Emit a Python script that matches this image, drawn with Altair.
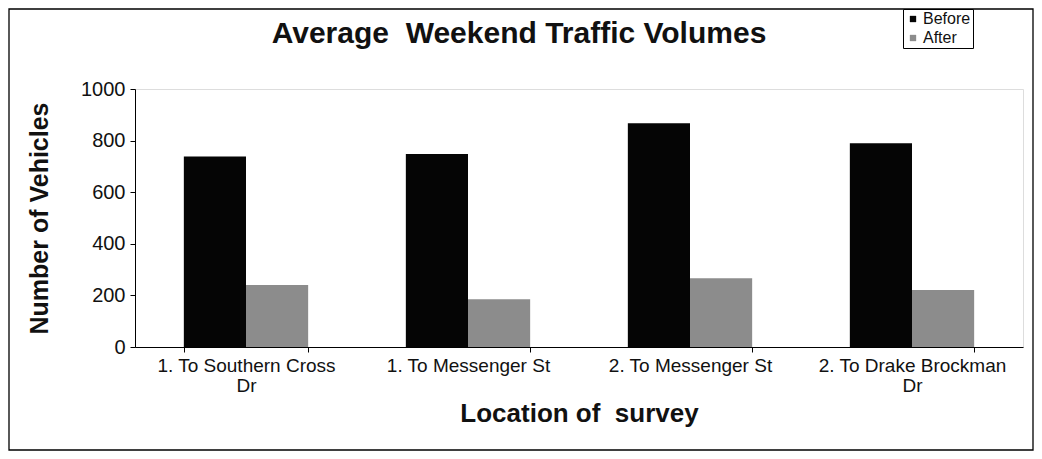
import altair as alt
import pandas as pd

categories = ["1. To Southern Cross\nDr", "1. To Messenger St", "2. To Messenger St", "2. To Drake Brockman\nDr"]
series = ["Before", "After"]
before_vals = [738, 748, 867, 790]
after_vals = [240, 185, 266, 221]

rows = []
for c, b, a in zip(categories, before_vals, after_vals):
    rows.append({"loc": c, "series": "Before", "value": b})
    rows.append({"loc": c, "series": "After", "value": a})
df = pd.DataFrame(rows)

W, H = 888, 258
PL, PT, PR, PB = 127, 81, 11, 104
FONT = "Liberation Sans"

bars = alt.Chart(df).mark_bar(strokeWidth=0).encode(
    x=alt.X("loc:N", sort=categories,
            scale=alt.Scale(paddingInner=0.44, paddingOuter=0.22),
            axis=alt.Axis(title="Location of\u00a0 survey", labelAngle=0,
                          labelExpr="split(datum.label, '\\n')", labelLimit=0,
                          tickBand="extent", tickSize=5, tickColor="black",
                          domainColor="black", labelFontSize=19, labelColor="#111",
                          labelPadding=4, labelLineHeight=20,
                          titleFontSize=26, titleFontWeight="bold", titlePadding=5,
                          titleColor="#111", labelFont=FONT, titleFont=FONT)),
    xOffset=alt.XOffset("series:N", sort=series, scale=alt.Scale(paddingInner=0, paddingOuter=0)),
    y=alt.Y("value:Q", scale=alt.Scale(domain=[0, 1000]),
            axis=alt.Axis(title="Number of Vehicles", values=[0, 200, 400, 600, 800, 1000],
                          format="d",
                          grid=False, tickSize=5, tickColor="black", domainColor="black",
                          labelFontSize=20, labelColor="#111", labelPadding=5,
                          titleFontSize=25, titleFontWeight="bold", titlePadding=28,
                          titleColor="#111", labelFont=FONT, titleFont=FONT)),
    color=alt.Color("series:N", sort=series,
                    scale=alt.Scale(domain=series, range=["#050505", "#8c8c8c"]),
                    legend=alt.Legend(title=None, orient="none", legendX=768, legendY=-80,
                                      strokeColor="black", fillColor="white", padding=2,
                                      labelFontSize=16, labelFont=FONT, labelColor="#111",
                                      symbolType="square", symbolSize=40, symbolStrokeWidth=0,
                                      rowPadding=3, labelOffset=2)),
)

frame_df = pd.DataFrame({"k": [0]})
frame = alt.Chart(frame_df).mark_rect(fill=None, stroke="black", strokeWidth=1.3).encode(
    x=alt.value(-PL + 1), x2=alt.value(W + PR - 1),
    y=alt.value(-PT + 1), y2=alt.value(H + PB - 1),
)

chart = alt.layer(bars, frame).properties(
    width=W, height=H,
    title=alt.TitleParams("Average\u00a0 Weekend Traffic Volumes", fontSize=30, font=FONT,
                          fontWeight="bold", color="#111", anchor="middle", dx=-60,
                          frame="group", offset=0, dy=41),
    autosize=alt.AutoSizeParams(type="none"),
    padding={"left": PL, "top": PT, "right": PR, "bottom": PB},
).configure_view(
    fill="#e0e0e0", stroke="#555", strokeDash=[2, 3], strokeWidth=1
).configure(background="white")

chart.save("out.html", embed_options={"renderer": "svg", "actions": False})
